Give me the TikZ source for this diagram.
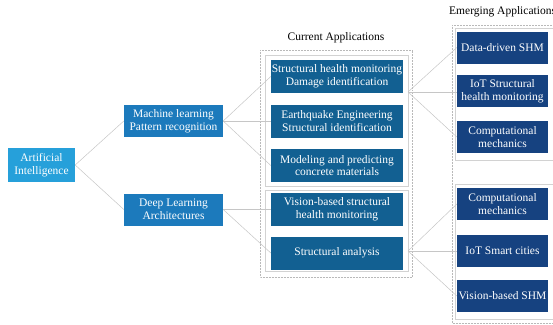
\documentclass[tikz,border=0pt]{standalone}
\usepackage{fontspec}
\setmainfont{Liberation Serif}
\usepackage{tikz}
\usetikzlibrary{calc}
\definecolor{aiblue}{RGB}{38,160,218}
\definecolor{mlblue}{RGB}{28,122,188}
\definecolor{curblue}{RGB}{18,96,146}
\definecolor{emgblue}{RGB}{22,66,128}
\tikzset{
  boxtext/.style={text=white, align=center, inner sep=0pt, font=\fontsize{11.5}{12.8}\selectfont},
  aibox/.style={boxtext, fill=aiblue, minimum width=67pt, minimum height=34pt},
  mlbox/.style={boxtext, fill=mlblue, minimum width=99pt, minimum height=32pt},
  curbox/.style={boxtext, fill=curblue, minimum width=132pt, minimum height=33pt},
  emgbox/.style={boxtext, fill=emgblue, minimum width=91pt, minimum height=32pt},
  titlenode/.style={inner sep=0pt, font=\fontsize{11.5}{13}\selectfont},
  link/.style={draw=gray!45, line width=0.5pt},
  grpline/.style={draw=gray!35, line width=0.6pt},
  outline/.style={draw=gray!55, line width=0.5pt, densely dotted}
}
\newcommand{\grpbox}[4]{\draw[grpline] ( #1 , #2 ) rectangle ( #3 , #4 );}
\newcommand{\outbox}[4]{\draw[outline] ( #1 , #2 ) rectangle ( #3 , #4 );}
\begin{document}
\begin{tikzpicture}[x=1pt, y=-1pt]
        \useasboundingbox (0,0) rectangle (553,324);

        % group frames
        \outbox{260}{50}{412}{277}
        \grpbox{265}{55}{408}{186}
        \grpbox{265}{190}{408}{271}
        \outbox{452}{25}{560}{323}
        \grpbox{455}{28}{560}{160}
        \grpbox{455}{184}{560}{319}

        % titles
        \node[titlenode] (curtitle) at (336,38) {Current Applications};
        \node[titlenode, anchor=west] (emgtitle) at (449,12) {Emerging Applications};

        % left side
        \node[aibox] (ai) at (41.5,165) {Artificial\\Intelligence};
        \node[mlbox] (ml) at (173.5,121) {Machine learning\\Pattern recognition};
        \node[mlbox] (dl) at (173.5,209.5) {Deep Learning\\Architectures};

        % current applications
        \node[curbox] (shm) at (337,76.5) {Structural health monitoring\\Damage identification};
        \node[curbox] (eq) at (337,121) {Earthquake Engineering\\Structural identification};
        \node[curbox] (conc) at (337,165.5) {Modeling and predicting\\concrete materials};
        \node[curbox] (vis) at (337,209.5) {Vision-based structural\\health monitoring};
        \node[curbox] (sa) at (337,253) {Structural analysis};

        % emerging applications
        \node[emgbox] (dd) at (502.5,47.5) {Data-driven SHM};
        \node[emgbox] (iots) at (502.5,91) {IoT Structural\\health monitoring};
        \node[emgbox] (cm) at (502.5,137) {Computational\\mechanics};
        \node[emgbox] (cmb) at (502.5,204) {Computational\\mechanics};
        \node[emgbox] (iotc) at (502.5,251) {IoT Smart cities};
        \node[emgbox] (vshm) at (502.5,296) {Vision-based SHM};

        % fan points
        \coordinate (fanA) at (408,92);
        \coordinate (fanB) at (408,251);

        % connectors
        \draw[link] (ai.east) -- (ml.west);
        \draw[link] (ai.east) -- (dl.west);
        \draw[link] (ml.east) -- (shm.west);
        \draw[link] (ml.east) -- (eq.west);
        \draw[link] (ml.east) -- (conc.west);
        \draw[link] (dl.east) -- (vis.west);
        \draw[link] (dl.east) -- (sa.west);
        \draw[link] (fanA) -- (dd.west);
        \draw[link] (fanA) -- (iots.west |- fanA);
        \draw[link] (fanA) -- (cm.west);
        \draw[link] (fanB) -- (cmb.west);
        \draw[link] (fanB) -- (iotc.west);
        \draw[link] (fanB) -- (vshm.west);
\end{tikzpicture}
\end{document}
